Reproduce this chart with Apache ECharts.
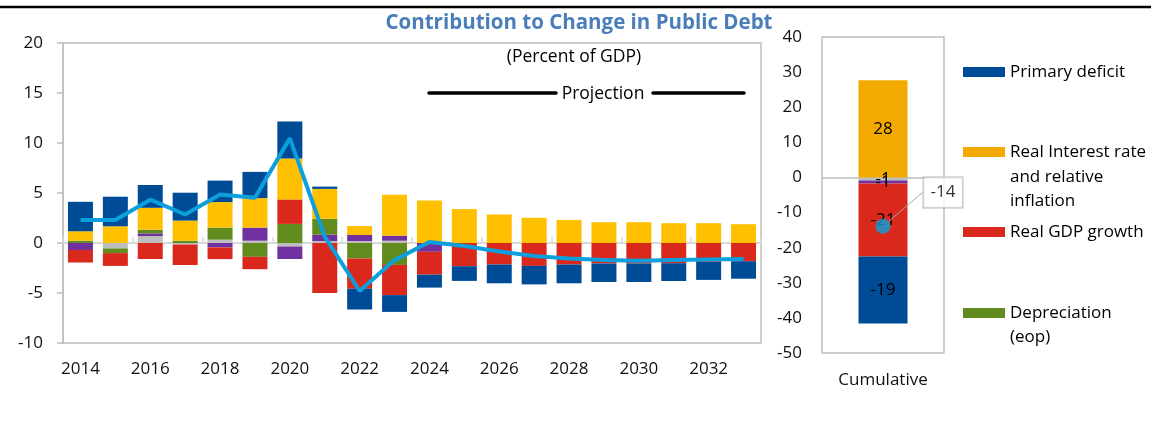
<!DOCTYPE html>
<html>
<head>
<meta charset="utf-8">
<script src="https://cdn.jsdelivr.net/npm/echarts@6/dist/echarts.min.js"></script>
<style>
html,body{margin:0;padding:0;background:#fff;}
#chart{width:1151px;height:423px;}
</style>
</head>
<body>
<div id="chart"></div>
<script>
// ---- data (percent of GDP) ----
const years = ['2014','2015','2016','2017','2018','2019','2020','2021','2022','2023','2024','2025','2026','2027','2028','2029','2030','2031','2032','2033'];
const primaryDeficit = [2.95, 2.96, 2.28, 2.79, 2.15, 2.62, 3.69, 0.23, -2.08, -1.68, -1.30, -1.47, -1.88, -1.85, -1.88, -1.85, -1.85, -1.78, -1.81, -1.75];
const realInterest   = [0.94, 1.67, 2.19, 2.01, 2.55, 2.95, 4.10, 2.99, 0.90, 4.10, 4.26, 3.39, 2.85, 2.52, 2.31, 2.08, 2.08, 1.98, 1.98, 1.88];
const realGdpGrowth  = [-1.25, -1.28, -1.60, -2.05, -1.17, -1.24, 2.45, -5.00, -3.02, -3.02, -2.28, -2.32, -2.15, -2.29, -2.15, -2.05, -2.05, -2.02, -1.88, -1.82];
const depreciation   = [0.23, -0.47, 0.37, 0.23, 1.21, -1.38, 1.91, 1.58, -1.55, -2.19, 0, 0, 0, 0, 0, 0, 0, 0, 0, 0];
const otherFlows     = [-0.70, 0, 0.26, 0, -0.44, 1.31, -1.25, 0.64, 0.60, 0.50, -0.88, 0, 0, 0, 0, 0, 0, 0, 0, 0];
const residual       = [0, -0.54, 0.70, -0.15, 0.33, 0.23, -0.35, 0.20, 0.20, 0.23, 0, 0, 0, 0, 0, 0, 0, 0, 0, 0];
const debtChange     = [2.3, 2.3, 4.33, 2.85, 4.86, 4.53, 10.47, 0.63, -4.8, -1.71, 0.1, -0.3, -0.85, -1.31, -1.55, -1.71, -1.78, -1.71, -1.65, -1.61];

const cumCategory       = ['Cumulative'];
const cumPrimaryDeficit = [-19.1];
const cumRealInterest   = [27.7];
const cumRealGdpGrowth  = [-20.8];
const cumDepreciation   = [0];
const cumOtherFlows     = [-0.8];
const cumResidual       = [-0.9];
const cumDebtChange     = [-13.9];

const leftTicks = {min: -10, max: 20, interval: 5};
const rightTicks = {min: -50, max: 40, interval: 10};

// ---- styles ----
const C = {
  blue: '#004B96', yellow: '#FFC000', yellowR: '#F2AA00', red: '#DA291C',
  green: '#618C1D', purple: '#7030A0', gray: '#BDBDBD', line: '#0BA0DD'
};
const FONT = 'Open Sans';
const N_PD = 'Primary deficit';
const N_RI = 'Real Interest rate and relative inflation';
const N_GDP = 'Real GDP growth';
const N_DEP = 'Depreciation (eop)';
const N_OTH = 'Other debt-creating flows';
const N_RES = 'Residual';
const legendShort = {};
legendShort[N_RI] = 'Real Interest rate';
legendShort[N_DEP] = 'Depreciation';

function leftBar(name, data, color) {
  return {name, type: 'bar', stack: 'L', xAxisIndex: 0, yAxisIndex: 0, data,
    barWidth: 25, itemStyle: {color}, emphasis: {disabled: true}};
}
function rightBar(name, data, color) {
  return {name, type: 'bar', stack: 'R', xAxisIndex: 2, yAxisIndex: 1, data,
    barWidth: 49, itemStyle: {color}, emphasis: {disabled: true},
    label: {show: true, position: 'inside', color: '#000', fontSize: 17, fontFamily: FONT,
      formatter: p => (p.value === 0 ? '' : String(Math.round(p.value)))}};
}
function legendAt(name, color, top) {
  return {show: true, selectedMode: false, left: 963, top, orient: 'vertical',
    itemWidth: 42, itemHeight: 10, icon: 'rect', padding: 0,
    data: [{name, itemStyle: {color}}],
    formatter: n => legendShort[n] || n,
    textStyle: {fontSize: 17, fontFamily: FONT, color: '#000', lineHeight: 20}};
}

const chart = echarts.init(document.getElementById('chart'));
chart.setOption({
  animation: false,
  textStyle: {fontFamily: FONT},
  title: {text: 'Contribution to Change in Public Debt', left: 574, top: 8, textAlign: 'center',
    textStyle: {color: '#4A7EBB', fontSize: 20.5, fontWeight: 'bold', fontFamily: FONT}},
  legend: [
    legendAt(N_PD, C.blue, 62),
    legendAt(N_RI, C.yellowR, 142),
    legendAt(N_GDP, C.red, 222),
    legendAt(N_DEP, C.green, 303)
  ],
  grid: [
    {left: 63, top: 43, width: 698, height: 300, show: true, borderColor: '#BFBFBF', borderWidth: 1.5},
    {left: 822, top: 37, width: 122, height: 316, show: true, borderColor: '#BFBFBF', borderWidth: 1.5}
  ],
  xAxis: [
    {type: 'category', gridIndex: 0, data: years, position: 'bottom',
      axisLine: {show: false, onZero: false}, axisTick: {show: false},
      axisLabel: {interval: 1, fontSize: 17, color: '#111', margin: 18}},
    {type: 'category', gridIndex: 0, data: years,
      axisLine: {show: true, onZero: true, lineStyle: {color: '#D9D9D9', width: 2}},
      axisTick: {show: true, interval: 1, length: 6, lineStyle: {color: '#D9D9D9', width: 1.5}},
      axisLabel: {show: false}},
    {type: 'category', gridIndex: 1, data: cumCategory, position: 'bottom',
      axisLine: {show: false, onZero: false}, axisTick: {show: false},
      axisLabel: {fontSize: 17, color: '#111', margin: 19}},
    {type: 'category', gridIndex: 1, data: cumCategory,
      axisLine: {show: true, onZero: true, lineStyle: {color: '#BFBFBF', width: 1.5}},
      axisTick: {show: false}, axisLabel: {show: false}}
  ],
  yAxis: [
    {type: 'value', gridIndex: 0, min: leftTicks.min, max: leftTicks.max, interval: leftTicks.interval,
      splitLine: {show: false},
      axisLine: {show: true, lineStyle: {color: '#BFBFBF', width: 1.5}},
      axisTick: {show: true, length: 6, lineStyle: {color: '#BFBFBF', width: 1.5}},
      axisLabel: {fontSize: 17, color: '#111', margin: 20}},
    {type: 'value', gridIndex: 1, min: rightTicks.min, max: rightTicks.max, interval: rightTicks.interval,
      splitLine: {show: false}, axisLine: {show: false}, axisTick: {show: false},
      axisLabel: {fontSize: 17, color: '#111', margin: 20}}
  ],
  series: [
    leftBar(N_RES, residual, C.gray),
    leftBar(N_OTH, otherFlows, C.purple),
    leftBar(N_DEP, depreciation, C.green),
    leftBar(N_GDP, realGdpGrowth, C.red),
    leftBar(N_RI, realInterest, C.yellow),
    leftBar(N_PD, primaryDeficit, C.blue),
    {name: 'Change in public debt', type: 'line', xAxisIndex: 0, yAxisIndex: 0, data: debtChange,
      symbol: 'none', z: 5, lineStyle: {color: C.line, width: 4}, emphasis: {disabled: true}},
    rightBar(N_RES, cumResidual, C.gray),
    rightBar(N_OTH, cumOtherFlows, C.purple),
    rightBar(N_DEP, cumDepreciation, C.green),
    rightBar(N_GDP, cumRealGdpGrowth, C.red),
    rightBar(N_RI, cumRealInterest, C.yellowR),
    rightBar(N_PD, cumPrimaryDeficit, C.blue),
    {name: 'Change in public debt (cumulative)', type: 'scatter', xAxisIndex: 2, yAxisIndex: 1,
      data: cumDebtChange, symbolSize: 15, z: 5, itemStyle: {color: C.line},
      label: {show: true, formatter: p => String(Math.round(p.value)), fontSize: 17, color: '#000',
        backgroundColor: '#fff', borderColor: '#A6A6A6', borderWidth: 1, padding: [7, 7, 6, 7]},
      labelLayout: {x: 943, y: 192.5, align: 'center', verticalAlign: 'middle'},
      labelLine: {show: true, lineStyle: {color: '#A6A6A6', width: 1}}}
  ],
  graphic: [
    {type: 'line', shape: {x1: 0, y1: 7, x2: 1151, y2: 7}, style: {stroke: '#000', lineWidth: 2.5}},
    {type: 'text', x: 574, y: 57, style: {text: '(Percent of GDP)', fontSize: 17.5, fontFamily: FONT, fill: '#000', align: 'center', verticalAlign: 'middle'}},
    {type: 'text', x: 603, y: 94, style: {text: 'Projection', fontSize: 17.5, fontFamily: FONT, fill: '#000', align: 'center', verticalAlign: 'middle'}},
    {type: 'line', shape: {x1: 429, y1: 93, x2: 556, y2: 93}, style: {stroke: '#000', lineWidth: 3.5, lineCap: 'round'}},
    {type: 'line', shape: {x1: 653, y1: 93, x2: 744, y2: 93}, style: {stroke: '#000', lineWidth: 3.5, lineCap: 'round'}},
    {type: 'text', x: 1010, y: 177, style: {text: 'and relative', fontSize: 17, fontFamily: FONT, fill: '#000', verticalAlign: 'middle'}},
    {type: 'text', x: 1010, y: 201, style: {text: 'inflation', fontSize: 17, fontFamily: FONT, fill: '#000', verticalAlign: 'middle'}},
    {type: 'text', x: 1010, y: 337, style: {text: '(eop)', fontSize: 17, fontFamily: FONT, fill: '#000', verticalAlign: 'middle'}}
  ]
});
</script>
</body>
</html>
